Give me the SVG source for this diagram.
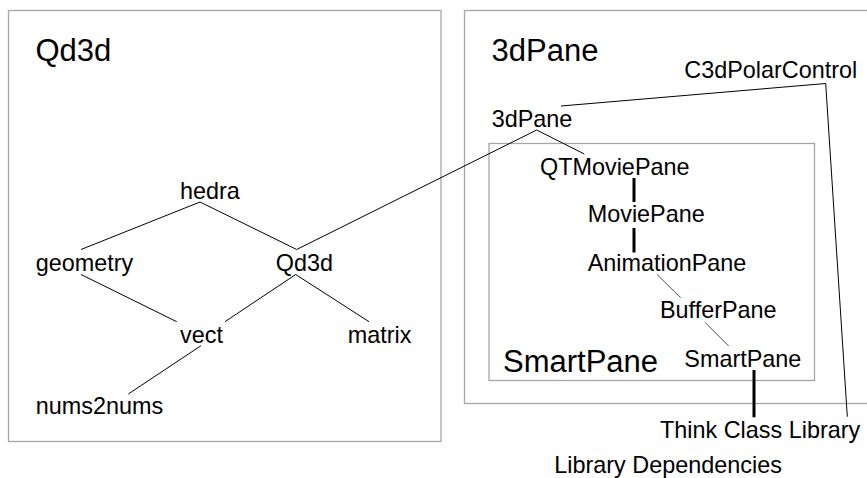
<svg xmlns="http://www.w3.org/2000/svg" width="867" height="478" viewBox="0 0 867 478">
<style>
.box{fill:none;stroke:#a6a6a6;stroke-width:1.3}
.t{font-family:"Liberation Sans",Arial,sans-serif;font-size:23.4px;fill:#000}
.big{font-family:"Liberation Sans",Arial,sans-serif;font-size:31px;fill:#000}
.ln{stroke:#000;stroke-width:1;fill:none}
.fine{stroke:#222;stroke-width:0.8;fill:none}
.thick{stroke:#000;stroke-width:3;fill:none}
</style>
<rect width="867" height="478" fill="#fff"/>
<g id="lib-qd3d">
<rect class="box" x="8.5" y="10.5" width="432.5" height="431"/>
<text class="big" x="35.5" y="60.5">Qd3d</text>
</g>
<g id="lib-3dpane">
<rect class="box" x="464.5" y="10.5" width="410" height="393"/>
<text class="big" x="491.5" y="60.5">3dPane</text>
</g>
<g id="lib-smartpane">
<rect class="box" x="489" y="143.5" width="325.5" height="237"/>
<text class="big" x="503" y="371.5">SmartPane</text>
</g>
<g id="connectors">
<line class="ln" x1="200" y1="202" x2="81" y2="249.5"/>
<line class="ln" x1="200" y1="202" x2="296.7" y2="249.5"/>
<line class="ln" x1="296.7" y1="249.5" x2="536.7" y2="130"/>
<line class="ln" x1="81" y1="274.5" x2="176.7" y2="321.7"/>
<line class="ln" x1="295.7" y1="274.5" x2="225" y2="321.7"/>
<line class="ln" x1="295.7" y1="274.5" x2="369" y2="321.7"/>
<line class="ln" x1="201" y1="345.7" x2="128.3" y2="394"/>
<line class="ln" x1="561" y1="106" x2="825.7" y2="83.5"/>
<line class="ln" x1="825.7" y1="83.5" x2="847.3" y2="416.7"/>
<line class="ln" x1="536.7" y1="130" x2="584.3" y2="154"/>
<line class="thick" x1="634" y1="178" x2="634" y2="202"/>
<line class="thick" x1="634" y1="228" x2="634" y2="252.5"/>
<line class="fine" x1="657" y1="274.5" x2="680.7" y2="297.7"/>
<line class="fine" x1="705" y1="322.3" x2="728.7" y2="346"/>
<line class="thick" x1="754" y1="370" x2="754" y2="417.3"/>
</g>
<g id="hedra"><text class="t" x="180" y="199.3">hedra</text></g>
<g id="geometry"><text class="t" x="35.7" y="270.7">geometry</text></g>
<g id="qd3d"><text class="t" x="275.7" y="270.7">Qd3d</text></g>
<g id="vect"><text class="t" x="180" y="342.7">vect</text></g>
<g id="matrix"><text class="t" x="347.7" y="342.7">matrix</text></g>
<g id="nums2nums"><text class="t" x="35.7" y="414.3">nums2nums</text></g>
<g id="c3dpolarcontrol"><text class="t" x="684.3" y="78.3">C3dPolarControl</text></g>
<g id="3dpane"><text class="t" x="491.7" y="126.7">3dPane</text></g>
<g id="qtmoviepane"><text class="t" x="540" y="175">QTMoviePane</text></g>
<g id="moviepane"><text class="t" x="587.7" y="222.3">MoviePane</text></g>
<g id="animationpane"><text class="t" x="587.7" y="270.7">AnimationPane</text></g>
<g id="bufferpane"><text class="t" x="660" y="318.3">BufferPane</text></g>
<g id="smartpane"><text class="t" x="684.3" y="366.7">SmartPane</text></g>
<g id="think-class-library"><text class="t" x="660" y="438.3">Think Class Library</text></g>
<g id="caption"><text class="t" x="554.3" y="472.5">Library Dependencies</text></g>
</svg>
